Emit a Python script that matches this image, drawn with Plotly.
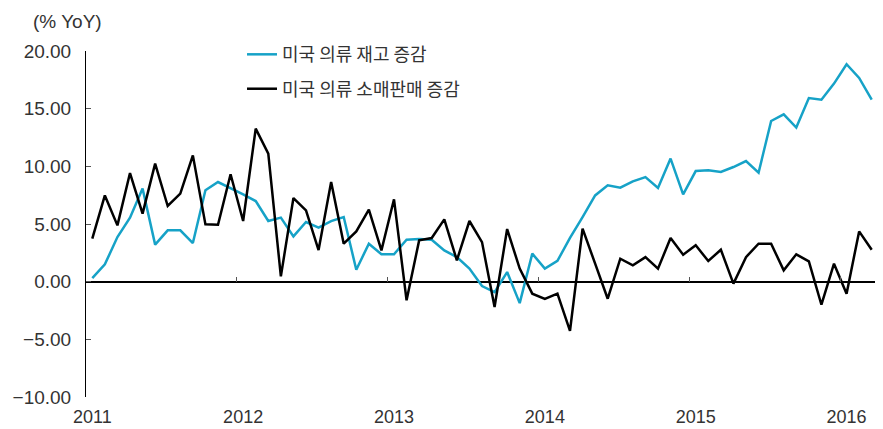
import plotly.graph_objects as go

months = [f"{y}-{m:02d}" for y in range(2011, 2017) for m in range(1, 13)][:63]

inventory = [0.31, 1.50, 3.87, 5.55, 8.07, 3.21, 4.45, 4.45, 3.35, 7.92, 8.64, 8.12,
             7.57, 6.99, 5.26, 5.55, 3.93, 5.17, 4.68, 5.25, 5.60, 1.04, 3.29, 2.37,
             2.37, 3.64, 3.70, 3.64, 2.71, 2.13, 1.13, -0.38, -0.90, 0.83, -1.86, 2.43,
             1.13, 1.80, 3.80, 5.60, 7.48, 8.35, 8.15, 8.70, 9.07, 8.12, 10.67, 7.57,
             9.59, 9.65, 9.51, 9.94, 10.46, 9.45, 13.93, 14.51, 13.36, 15.92, 15.78, 17.17,
             18.85, 17.66, 15.78]

retail = [3.73, 7.48, 4.88, 9.42, 5.90, 10.23, 6.56, 7.63, 10.95, 4.97, 4.94, 9.31,
          5.26, 13.27, 11.10, 0.46, 7.25, 6.18, 2.74, 8.64, 3.29, 4.36, 6.24, 2.71,
          7.14, -1.62, 3.58, 3.78, 5.40, 1.85, 5.26, 3.43, -2.20, 4.56, 1.13, -1.04,
          -1.50, -1.04, -4.26, 4.60, 1.56, -1.48, 1.99, 1.41, 2.13, 1.13, 3.78, 2.34,
          3.15, 1.79, 2.77, -0.17, 2.13, 3.29, 3.29, 0.98, 2.37, 1.76, -2.00, 1.56,
          -1.04, 4.36, 2.77]

series_names = ["미국 의류 재고 증감", "미국 의류 소매판매 증감"]
year_labels = ["2011", "2012", "2013", "2014", "2015", "2016"]
y_ticks = [-10, -5, 0, 5, 10, 15, 20]

idx = list(range(len(months)))
year_pos = [months.index(f"{y}-01") for y in year_labels]
year_bounds = [p - 0.5 for p in year_pos[1:]]

fig = go.Figure()
fig.add_trace(go.Scatter(x=idx, y=inventory, mode="lines", name=series_names[0],
                         line=dict(color="#16A2C7", width=2.5), legendgroup="a"))
fig.add_trace(go.Scatter(x=idx, y=retail, mode="lines", name=series_names[1],
                         line=dict(color="#000000", width=2.5), legendgroup="b"))
# invisible trace to host the zero-line tick axis
fig.add_trace(go.Scatter(x=[idx[0]], y=[0], xaxis="x2", mode="none",
                         showlegend=False, hoverinfo="skip"))

fig.update_layout(
    width=875, height=421,
    margin=dict(l=78, r=5, t=43, b=32, autoexpand=False),
    plot_bgcolor="white", paper_bgcolor="white",
    font=dict(family="Liberation Sans, Arial, sans-serif", color="#333333"),
    xaxis=dict(range=[-0.5, 62.5], tickvals=year_pos, ticktext=year_labels,
               showgrid=False, zeroline=False, showline=False, ticks="",
               automargin=False, ticklabelstandoff=7,
               tickfont=dict(size=18, color="#333333")),
    xaxis2=dict(range=[-0.5, 62.5], overlaying="x", anchor="free", position=1/3,
                tickvals=year_bounds, ticks="inside", ticklen=5, tickcolor="#555555",
                showticklabels=False, showgrid=False, zeroline=False, showline=False,
                automargin=False),
    yaxis=dict(range=[-10, 20], tickvals=y_ticks, tickformat=".2f",
               showgrid=False, zeroline=True, zerolinecolor="#000000", zerolinewidth=1.5,
               showline=True, linecolor="#000000", linewidth=1,
               ticks="inside", ticklen=5, tickcolor="#555555", automargin=False,
               tickfont=dict(size=19, color="#333333"), ticklabelstandoff=10),
    legend=dict(x=0.197, y=1.043, xanchor="left", yanchor="top",
                bgcolor="rgba(0,0,0,0)", tracegroupgap=8,
                font=dict(family="Noto Sans CJK KR", size=18, color="#333333")),
    annotations=[dict(text="(% YoY)", xref="paper", yref="paper", x=-0.0694, y=1.085,
                      xanchor="left", yanchor="middle", showarrow=False,
                      font=dict(size=19, color="#333333"))],
)

fig.write_html("out.html")
